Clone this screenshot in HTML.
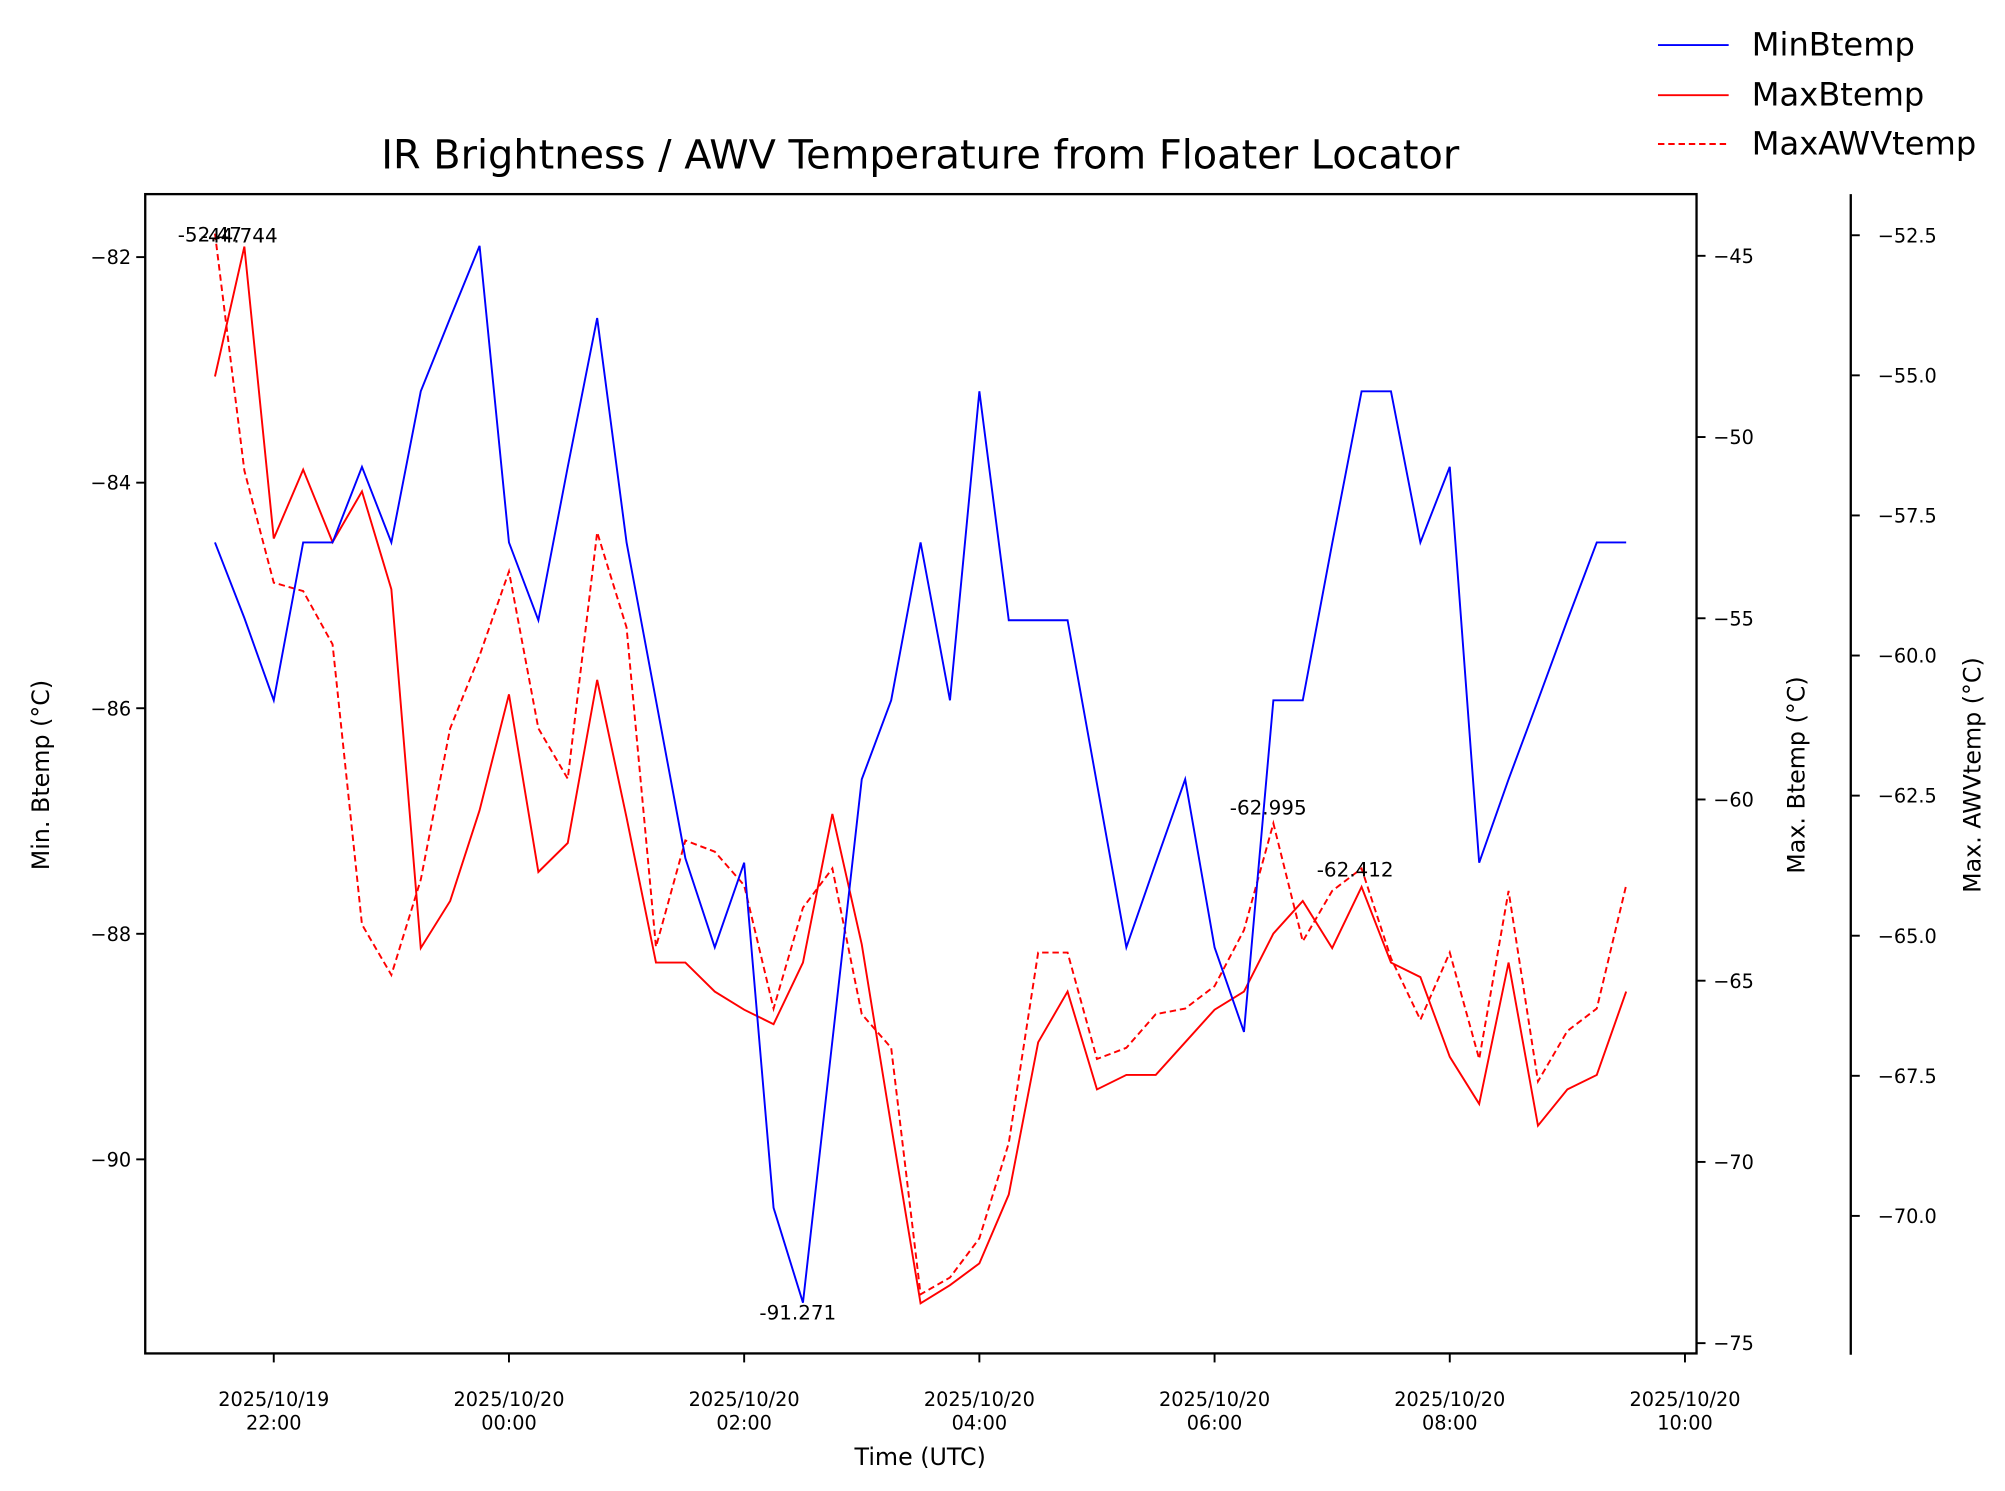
<!DOCTYPE html>
<html><head><meta charset="utf-8"><style>
html,body{margin:0;padding:0;background:#fff}
svg{display:block;font-family:"DejaVu Sans","Liberation Sans",sans-serif}
</style></head><body>
<svg id="chart" width="2005" height="1491" viewBox="0 0 1560 1160" xmlns="http://www.w3.org/2000/svg">
<rect width="1560" height="1160" fill="#fff"/>
<text x="716" y="131" font-size="31" text-anchor="middle">IR Brightness / AWV Temperature from Floater Locator</text>
<text x="716" y="1140" font-size="18.5" text-anchor="middle">Time (UTC)</text>
<text transform="translate(38,603) rotate(-90)" font-size="18.5" text-anchor="middle">Min. Btemp (°C)</text>
<text transform="translate(1404,603) rotate(-90)" font-size="18.5" text-anchor="middle">Max. Btemp (°C)</text>
<text transform="translate(1541,603) rotate(-90)" font-size="18.5" text-anchor="middle">Max. AWVtemp (°C)</text>
<g id="marks"></g>
<g id="axes"></g>
<g>
<line x1="1290" y1="35" x2="1345" y2="35" stroke="#0000ff" stroke-width="1.5"/>
<text x="1363" y="43" font-size="25">MinBtemp</text>
<line x1="1290" y1="74" x2="1345" y2="74" stroke="#ff0000" stroke-width="1.5"/>
<text x="1363" y="82" font-size="25">MaxBtemp</text>
<line x1="1290" y1="112" x2="1345" y2="112" stroke="#ff0000" stroke-width="1.5" stroke-dasharray="5,3"/>
<text x="1363" y="120" font-size="25">MaxAWVtemp</text>
</g>
</svg>
<script>
// data: 15-minute steps starting 2025/10/19 21:30 UTC (hours from 22:00 = -0.5)
const startHour = -0.5;
const stepHours = 0.25;
const minBtemp = [-84.53,-85.2,-85.93,-84.53,-84.53,-83.86,-84.53,-83.19,-82.54,-81.9,-84.53,-85.22,-83.86,-82.54,-84.53,-85.93,-87.33,-88.12,-87.37,-90.43,-91.271,-88.95,-86.63,-85.93,-84.53,-85.93,-83.19,-85.22,-85.22,-85.22,-86.67,-88.12,-87.37,-86.63,-88.12,-88.87,-85.93,-85.93,-84.54,-83.19,-83.19,-84.53,-83.86,-87.37,-86.63,-85.93,-85.22,-84.53,-84.53];
const maxBtemp = [-48.33,-44.744,-52.8,-50.9,-52.9,-51.5,-54.2,-64.1,-62.8,-60.3,-57.1,-62.0,-61.2,-56.7,-60.5,-64.5,-64.5,-65.3,-65.8,-66.2,-64.5,-60.4,-64.0,-69.0,-73.9,-73.4,-72.8,-70.9,-66.7,-65.3,-68.0,-67.6,-67.6,-66.7,-65.8,-65.3,-63.7,-62.8,-64.1,-62.412,-64.5,-64.9,-67.1,-68.4,-64.5,-69.0,-68.0,-67.6,-65.3];
const maxAwvtemp = [-52.47,-56.7,-58.7,-58.85,-59.8,-64.8,-65.7,-64.0,-61.3,-60.0,-58.5,-61.3,-62.2,-57.8,-59.5,-65.2,-63.3,-63.5,-64.1,-66.3,-64.5,-63.8,-66.4,-67.0,-71.4,-71.1,-70.4,-68.7,-65.3,-65.3,-67.2,-67.0,-66.4,-66.3,-65.9,-64.9,-62.995,-65.1,-64.2,-63.8,-65.4,-66.5,-65.3,-67.2,-64.2,-67.6,-66.7,-66.3,-64.1];
const xTickHours = [0,2,4,6,8,10,12];
const xTickLabels = [["2025/10/19","22:00"],["2025/10/20","00:00"],["2025/10/20","02:00"],["2025/10/20","04:00"],["2025/10/20","06:00"],["2025/10/20","08:00"],["2025/10/20","10:00"]];
const leftTicks = [-82,-84,-86,-88,-90];
const rightTicks = [-45,-50,-55,-60,-65,-70,-75];
const awvTicks = [-52.5,-55,-57.5,-60,-62.5,-65,-67.5,-70];
const awvTickLabels = ["−52.5","−55.0","−57.5","−60.0","−62.5","−65.0","−67.5","−70.0"];

const NS = "http://www.w3.org/2000/svg";
const X0=113, X1=1320, Y0=151, Y1=1053;
const TF=15, AF=15.5;
function xScale(h){ return 213 + h*91.5; }
function yLeft(v){ return 200 + (-82 - v)*87.75; }
function yRight(v){ return 199 + (-45 - v)*28.2; }
function yAwv(v){ return 183 + (-52.5 - v)*43.6; }
function mk(tag, attrs, parent){ const e=document.createElementNS(NS,tag); for(const k in attrs) e.setAttribute(k,attrs[k]); parent.appendChild(e); return e; }
const marks=document.getElementById('marks'), axes=document.getElementById('axes');

function series(vals, yf, color, dash, name){
  const pts = vals.map((v,i)=> xScale(startHour+i*stepHours).toFixed(2)+','+yf(v).toFixed(2)).join(' ');
  const p = mk('polyline',{points:pts,fill:'none',stroke:color,'stroke-width':1.5},marks);
  if(dash) p.setAttribute('stroke-dasharray',dash);
  
  
}
series(maxAwvtemp, yAwv, '#ff0000', '5,3', 'maxawvtemp-line');
series(maxBtemp, yRight, '#ff0000', null, 'maxbtemp-line');
series(minBtemp, yLeft, '#0000ff', null, 'minbtemp-line');

function annot(txt, x, y, name){
  const t = mk('text',{x:x,y:y,'font-size':AF,'text-anchor':'middle'},marks);
  t.textContent = txt;
  
  
}
function idxOf(arr, f){ let b=0; arr.forEach((v,i)=>{ if(f(v,arr[b])) b=i; }); return b; }
annot(maxAwvtemp[0].toFixed(3).replace(/0+$/,''), xScale(startHour)-4, yAwv(maxAwvtemp[0])+6, 'annotation-awv-start');
const iBmax = idxOf(maxBtemp,(a,b)=>a>b);
annot(maxBtemp[iBmax].toFixed(3), xScale(startHour+iBmax*stepHours)-4, yRight(maxBtemp[iBmax])-3, 'annotation-maxbtemp-peak');
const iMin = idxOf(minBtemp,(a,b)=>a<b);
annot(minBtemp[iMin].toFixed(3), xScale(startHour+iMin*stepHours)-4, yLeft(minBtemp[iMin])+13, 'annotation-minbtemp-low');
annot(maxAwvtemp[36].toFixed(3), xScale(startHour+36*stepHours)-4, yAwv(maxAwvtemp[36])-7, 'annotation-awv-peak');
annot(maxBtemp[39].toFixed(3), xScale(startHour+39*stepHours)-5, yRight(maxBtemp[39])-8, 'annotation-maxbtemp-late');

const fr = mk('rect',{x:X0,y:Y0,width:X1-X0,height:Y1-Y0,fill:'none',stroke:'#000','stroke-width':1.8},axes);


const sp = mk('line',{x1:1440,y1:Y0,x2:1440,y2:Y1+1,stroke:'#000','stroke-width':1.8},axes);



xTickHours.forEach((h,i)=>{
  const x=xScale(h);
  const l=mk('line',{x1:x,y1:Y1,x2:x,y2:Y1+7,stroke:'#000','stroke-width':1.5},axes);
  
  
  const t=mk('text',{x:x,y:Y1+41,'font-size':TF,'text-anchor':'middle'},axes);
  
  
  const a=mk('tspan',{x:x},t); a.textContent=xTickLabels[i][0];
  const b=mk('tspan',{x:x,dy:18},t); b.textContent=xTickLabels[i][1];
});
leftTicks.forEach(v=>{
  const y=yLeft(v);
  const l=mk('line',{x1:X0-7,y1:y,x2:X0,y2:y,stroke:'#000','stroke-width':1.5},axes);
  
  
  const t=mk('text',{x:X0-11,y:y+5.5,'font-size':TF,'text-anchor':'end'},axes);
  t.textContent='−'+Math.abs(v);
  
  
});
rightTicks.forEach(v=>{
  const y=yRight(v);
  const l=mk('line',{x1:X1,y1:y,x2:X1+7,y2:y,stroke:'#000','stroke-width':1.5},axes);
  
  
  const t=mk('text',{x:X1+13,y:y+5.5,'font-size':TF},axes);
  t.textContent='−'+Math.abs(v);
  
  
});
awvTicks.forEach((v,i)=>{
  const y=yAwv(v);
  const l=mk('line',{x1:1440,y1:y,x2:1447,y2:y,stroke:'#000','stroke-width':1.5},axes);
  
  
  const t=mk('text',{x:1461,y:y+5.5,'font-size':TF},axes);
  t.textContent=awvTickLabels[i];
  
  
});
</script>
</body></html>
